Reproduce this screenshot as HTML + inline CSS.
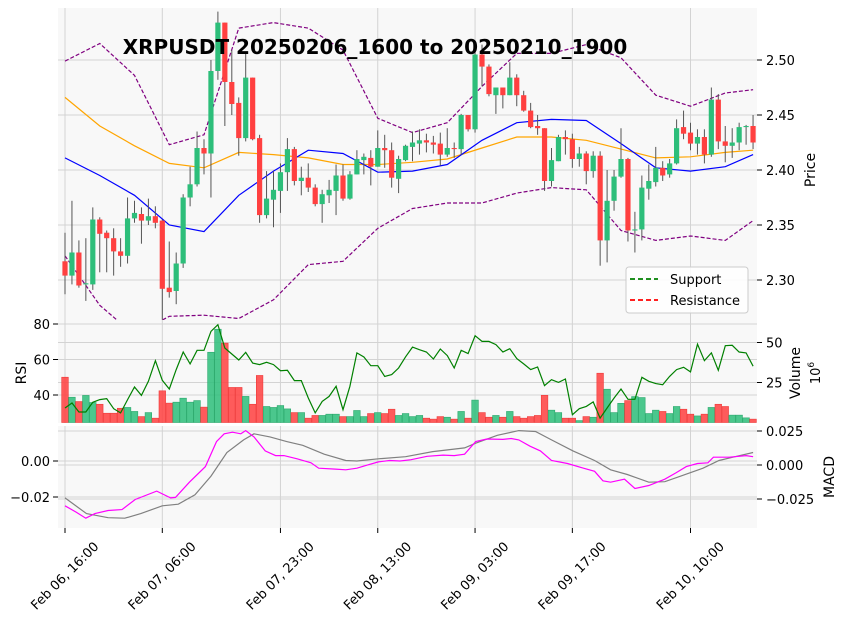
<!DOCTYPE html>
<html><head><meta charset="utf-8"><style>
html,body{margin:0;padding:0;background:#fff;}
svg{display:block;font-family:"DejaVu Sans","Liberation Sans",sans-serif;}
</style></head><body>
<svg id="chart" width="846" height="624" viewBox="0 0 846 624" xmlns="http://www.w3.org/2000/svg">
<defs>
<clipPath id="clipMain"><rect x="58" y="8" width="699" height="312"/></clipPath>
<clipPath id="clipMid"><rect x="58" y="320" width="699" height="103"/></clipPath>
<clipPath id="clipMacd"><rect x="58" y="426" width="699" height="102"/></clipPath>
</defs>
<g id="bg"></g>
<g id="grid"></g>
<g id="marks"></g>
<g id="axes"></g>
<text x="375" y="54" text-anchor="middle" font-size="20" font-weight="bold" fill="#000">XRPUSDT 20250206_1600 to 20250210_1900</text>
<g>
<rect x="626" y="267" width="122" height="46" rx="3" fill="#fff" fill-opacity="0.85" stroke="#ccc"/>
<line x1="630" y1="279" x2="658" y2="279" stroke="green" stroke-width="1.8" stroke-dasharray="5,3"/>
<text x="670" y="284" font-size="13">Support</text>
<line x1="630" y1="300" x2="658" y2="300" stroke="red" stroke-width="1.8" stroke-dasharray="5,3"/>
<text x="670" y="305" font-size="13">Resistance</text>
</g>
</svg>
<script>
const opens=[2.317,2.304,2.325,2.296,2.296,2.355,2.343,2.338,2.326,2.322,2.356,2.360,2.354,2.358,2.354,2.293,2.290,2.315,2.375,2.387,2.420,2.415,2.490,2.534,2.480,2.461,2.429,2.484,2.429,2.359,2.373,2.381,2.398,2.419,2.390,2.393,2.384,2.369,2.377,2.381,2.395,2.374,2.396,2.409,2.411,2.403,2.420,2.418,2.392,2.409,2.421,2.424,2.427,2.425,2.424,2.414,2.420,2.419,2.450,2.437,2.505,2.494,2.468,2.475,2.468,2.484,2.468,2.454,2.440,2.438,2.390,2.408,2.430,2.428,2.410,2.415,2.399,2.413,2.336,2.372,2.394,2.410,2.345,2.346,2.383,2.389,2.402,2.396,2.406,2.439,2.434,2.424,2.430,2.414,2.464,2.426,2.422,2.425,2.439,2.440];
const closes=[2.304,2.325,2.295,2.297,2.355,2.342,2.338,2.326,2.322,2.356,2.361,2.354,2.358,2.352,2.292,2.289,2.315,2.375,2.387,2.420,2.415,2.490,2.534,2.480,2.460,2.429,2.484,2.428,2.359,2.374,2.382,2.398,2.419,2.390,2.393,2.384,2.369,2.378,2.382,2.395,2.374,2.396,2.410,2.412,2.403,2.420,2.418,2.393,2.410,2.422,2.425,2.427,2.425,2.423,2.414,2.420,2.419,2.450,2.437,2.505,2.494,2.469,2.475,2.468,2.484,2.468,2.454,2.439,2.438,2.390,2.409,2.430,2.428,2.410,2.415,2.399,2.413,2.336,2.372,2.394,2.410,2.345,2.346,2.384,2.390,2.402,2.395,2.406,2.438,2.433,2.424,2.430,2.414,2.464,2.426,2.422,2.425,2.439,2.440,2.425];
const highs=[2.343,2.372,2.336,2.338,2.366,2.357,2.345,2.347,2.338,2.375,2.372,2.366,2.374,2.367,2.355,2.335,2.325,2.378,2.403,2.435,2.428,2.500,2.544,2.534,2.509,2.466,2.506,2.484,2.432,2.399,2.399,2.406,2.429,2.421,2.403,2.406,2.387,2.382,2.391,2.405,2.405,2.399,2.418,2.415,2.418,2.436,2.432,2.425,2.413,2.423,2.435,2.437,2.433,2.431,2.434,2.438,2.425,2.451,2.450,2.514,2.514,2.496,2.475,2.475,2.498,2.487,2.472,2.461,2.450,2.438,2.420,2.432,2.436,2.433,2.421,2.417,2.417,2.417,2.400,2.400,2.438,2.411,2.362,2.395,2.405,2.421,2.408,2.410,2.446,2.454,2.443,2.437,2.437,2.475,2.469,2.440,2.438,2.443,2.441,2.450];
const lows=[2.287,2.296,2.293,2.281,2.291,2.307,2.307,2.304,2.312,2.315,2.352,2.333,2.350,2.347,2.264,2.284,2.278,2.311,2.367,2.385,2.396,2.375,2.482,2.440,2.450,2.413,2.426,2.427,2.352,2.356,2.348,2.361,2.381,2.386,2.377,2.380,2.367,2.352,2.370,2.359,2.372,2.373,2.396,2.396,2.386,2.403,2.402,2.384,2.379,2.408,2.408,2.414,2.416,2.415,2.404,2.412,2.411,2.414,2.435,2.434,2.476,2.467,2.451,2.456,2.468,2.458,2.453,2.438,2.432,2.381,2.385,2.408,2.414,2.402,2.403,2.387,2.393,2.313,2.316,2.363,2.393,2.335,2.325,2.336,2.373,2.385,2.390,2.393,2.405,2.428,2.418,2.414,2.406,2.412,2.419,2.407,2.411,2.418,2.423,2.419];
const volumes=[28.3,15.8,13.1,16.9,12.5,11.4,5.8,5.8,8.9,9.4,6.9,3.7,6.2,2.7,19.8,12.1,12.7,15.2,12.7,13.7,9.6,43.9,58.3,49.6,21.9,21.9,16.3,11.4,29.4,10.0,9.4,10.6,8.5,6.2,6.2,2.7,4.4,4.4,5.2,5.2,3.7,3.7,7.5,3.7,5.6,6.2,5.6,8.3,4.4,5.6,3.7,4.4,2.7,2.1,3.7,3.3,2.1,6.9,2.7,14.0,6.2,3.3,4.4,3.3,6.9,3.7,2.7,3.7,4.4,17.0,7.7,6.2,2.7,2.7,1.2,3.7,3.3,30.8,20.8,6.2,12.0,13.7,16.2,15.6,5.6,7.7,6.9,5.6,10.0,8.3,5.2,4.1,5.2,9.4,11.4,10.0,4.6,4.6,2.9,2.1];
const rsiValues=[32.7,35.5,30.4,30.4,35.9,37.4,37.9,32.3,29.9,37.4,44.5,39.8,47.7,59.3,48.3,43.4,54.3,64.2,57.5,65.2,65.2,75.9,79.6,66.5,63.1,59.7,64.0,58.0,57.1,58.4,57.1,53.7,53.9,48.1,48.1,38.3,29.9,36.4,39.2,44.9,31.7,44.9,63.7,61.4,56.5,56.5,50.5,51.5,55.2,61.5,67.0,65.5,64.2,60.3,65.9,62.2,55.2,65.2,63.3,73.4,70.2,70.2,68.4,64.2,66.1,60.5,57.5,54.3,55.8,45.3,48.6,47.1,49.0,28.9,32.3,33.6,36.1,27.0,32.7,38.3,43.4,37.6,37.6,50.0,47.7,46.4,45.8,50.5,54.3,55.6,53.0,68.7,59.3,63.7,53.9,67.8,68.0,64.2,63.7,56.2];
const bandIdx=[0,5,10,15,20,25,30,35,40,45,50,55,60,65,70,75,80,85,90,95,99];
const smaFast=[2.411,2.395,2.377,2.350,2.344,2.377,2.399,2.418,2.415,2.398,2.399,2.405,2.427,2.443,2.446,2.445,2.424,2.402,2.399,2.403,2.414];
const smaSlow=[2.466,2.440,2.422,2.406,2.402,2.416,2.414,2.411,2.405,2.405,2.407,2.410,2.420,2.430,2.430,2.427,2.419,2.411,2.412,2.416,2.418];
const bbUpper=[2.499,2.515,2.486,2.423,2.432,2.529,2.534,2.529,2.509,2.447,2.434,2.443,2.476,2.506,2.506,2.514,2.502,2.468,2.458,2.470,2.473];
const bbLower=[2.322,2.277,2.250,2.267,2.268,2.265,2.282,2.314,2.317,2.347,2.365,2.370,2.370,2.379,2.384,2.382,2.345,2.336,2.340,2.336,2.354];
const macdIdx=[0,1.6,3.0,4.3,6.2,8.2,10.1,13.2,15.2,15.9,17.9,20.2,21.8,22.9,24.1,25.3,26.0,27.2,28.8,30.3,31.5,33.4,35.4,36.5,38.9,40.4,42.0,43.5,45.1,46.7,48.2,49.8,52.1,54.4,56.0,57.5,59.1,60.7,63.0,64.2,65.3,66.9,68.4,70.0,72.3,74.6,76.2,77.4,78.5,80.5,82.0,84.0,86.3,87.9,89.4,91.0,92.5,93.3,95.6,98.0,99];
const macdValues=[-0.0249,-0.0284,-0.0318,-0.0292,-0.0275,-0.0270,-0.0214,-0.0167,-0.0205,-0.0202,-0.0118,-0.0031,0.0108,0.0151,0.0160,0.0151,0.0169,0.0134,0.0056,0.0030,0.0030,0.0012,-0.0010,-0.0040,-0.0045,-0.0049,-0.0040,-0.0023,-0.0005,0.0003,0,0.0007,0.0026,0.0033,0.0030,0.0038,0.0108,0.0122,0.0120,0.0125,0.0117,0.0082,0.0056,0.0003,-0.0014,-0.0040,-0.0057,-0.0110,-0.0118,-0.0101,-0.0153,-0.0136,-0.0101,-0.0066,-0.0031,-0.0014,-0.0010,0.0021,0.0021,0.0030,0.0024];
const signalIdx=[0,3.1,6.2,8.6,10.9,14.0,16.3,18.7,21.0,23.3,25.7,27.2,29.5,31.9,34.2,37.3,40.4,42.0,45.1,49.0,52.9,57.5,59.1,62.2,65.3,67.7,70.0,73.1,76.2,78.5,80.9,84.0,86.3,88.6,91.8,94.1,96.4,99];
const signalValues=[-0.0205,-0.0292,-0.0315,-0.0318,-0.0292,-0.0249,-0.0240,-0.0188,-0.0084,0.0047,0.0117,0.0151,0.0134,0.0108,0.0087,0.0038,0.0003,0,0.0012,0.0024,0.0052,0.0073,0.0099,0.0143,0.0169,0.0164,0.0117,0.0056,0.0003,-0.0049,-0.0075,-0.0118,-0.0115,-0.0084,-0.0040,0.0003,0.0024,0.0047];
const xTickIdx=[0,14,31,45,59,73,90];
const xTickLabels=["Feb 06, 16:00","Feb 07, 06:00","Feb 07, 23:00","Feb 08, 13:00","Feb 09, 03:00","Feb 09, 17:00","Feb 10, 10:00"];
const priceTicks=[2.30,2.35,2.40,2.45,2.50];
const rsiTicks=[40,60,80];
const volTicks=[25,50];
const macdLeftTicks=[-0.02,0.00];
const macdRightTicks=[-0.025,0.000,0.025];

const NS="http://www.w3.org/2000/svg";
const X=i=>65+6.95*i;
const YP=p=>60+(2.5-p)*1100;
const YR=r=>324+(80-r)*1.775;
const YV=v=>422.5-v*1.6;
const YM=v=>461-v*1800;
const YMR=v=>465-v*1360;
function mk(parent,tag,attrs){const e=document.createElementNS(NS,tag);for(const k in attrs)e.setAttribute(k,attrs[k]);document.getElementById(parent).appendChild(e);return e;}
function mkIn(g,tag,attrs){const e=document.createElementNS(NS,tag);for(const k in attrs)e.setAttribute(k,attrs[k]);g.appendChild(e);return e;}
[[8,312,'price-panel'],[320,103,'rsi-volume-panel'],[426,102,'macd-panel']].forEach(p=>{
  const r=mk('bg','rect',{x:58,y:p[0],width:699,height:p[1],fill:'#f8f8f8'});
  
  
});
const GC='#d3d3d3';
xTickIdx.forEach(i=>{
  [[8,320],[320,423],[426,528]].forEach(s=>mk('grid','line',{x1:X(i),x2:X(i),y1:s[0],y2:s[1],stroke:GC,'stroke-width':1}));
});
priceTicks.forEach(p=>{
  mk('grid','line',{x1:58,x2:757,y1:YP(p),y2:YP(p),stroke:GC});
  mk('axes','line',{x1:757,x2:762,y1:YP(p),y2:YP(p),stroke:'#000'});
  const t=mk('axes','text',{x:766,y:YP(p)+5,'font-size':13});t.textContent=p.toFixed(2);
  
  
});
rsiTicks.forEach(r=>{
  mk('grid','line',{x1:58,x2:757,y1:YR(r),y2:YR(r),stroke:GC});
  mk('axes','line',{x1:53,x2:58,y1:YR(r),y2:YR(r),stroke:'#000'});
  const t=mk('axes','text',{x:50,y:YR(r)+5,'font-size':13,'text-anchor':'end'});t.textContent=r;
  
  
});
volTicks.forEach(v=>{
  mk('grid','line',{x1:58,x2:757,y1:YV(v),y2:YV(v),stroke:GC});
  mk('axes','line',{x1:757,x2:762,y1:YV(v),y2:YV(v),stroke:'#000'});
  const t=mk('axes','text',{x:766,y:YV(v)+5,'font-size':13});t.textContent=v;
  
  
});
macdLeftTicks.forEach(v=>{
  mk('grid','line',{x1:58,x2:757,y1:YM(v),y2:YM(v),stroke:GC});
  mk('axes','line',{x1:53,x2:58,y1:YM(v),y2:YM(v),stroke:'#000'});
  const t=mk('axes','text',{x:50,y:YM(v)+5,'font-size':13,'text-anchor':'end'});t.textContent=(v<0?'\u22120.02':'0.00');
  
  
});
macdRightTicks.forEach(v=>{
  mk('grid','line',{x1:58,x2:757,y1:YMR(v),y2:YMR(v),stroke:GC});
  mk('axes','line',{x1:757,x2:762,y1:YMR(v),y2:YMR(v),stroke:'#000'});
  const t=mk('axes','text',{x:766,y:YMR(v)+5,'font-size':13});t.textContent=(v<0?'\u2212':'')+Math.abs(v).toFixed(3);
  
  
});
xTickIdx.forEach((i,k)=>{
  mk('axes','line',{x1:X(i),x2:X(i),y1:528,y2:533,stroke:'#000'});
  const cx=X(i),cy=576;
  const t=mk('axes','text',{x:cx,y:cy+4,'font-size':13,'text-anchor':'middle',transform:`rotate(-45 ${cx} ${cy})`});
  t.textContent=xTickLabels[k];
  
  
});
[['Price',815,170,'price-axis-title'],['RSI',26,373,'rsi-axis-title'],['Volume',800,373,'volume-axis-title'],['MACD',834,477,'macd-axis-title']].forEach(a=>{
  const t=mk('axes','text',{x:a[1],y:a[2],'font-size':14,'text-anchor':'middle',transform:`rotate(-90 ${a[1]} ${a[2]})`});
  t.textContent=a[0];
  
  
});
{const t=mk('axes','text',{x:820,y:373,'font-size':13,'text-anchor':'middle',transform:'rotate(-90 820 373)'});
t.innerHTML='10<tspan dy="-6" font-size="9">6</tspan>';

}

const GREEN='#2dbe7a',RED='#ff4040';
const gMain=mk('marks','g',{'clip-path':'url(#clipMain)'});
function line(g,idx,vals,yf,attrs,name){
  const pts=idx.map((i,k)=>X(i).toFixed(1)+','+yf(vals[k]).toFixed(1)).join(' ');
  const e=mkIn(g,'polyline',Object.assign({points:pts,fill:'none'},attrs));
  
  
  return e;
}
line(gMain,bandIdx,bbUpper,YP,{stroke:'#800080','stroke-width':1.2,'stroke-dasharray':'4,2'},'bollinger-upper');
line(gMain,bandIdx,bbLower,YP,{stroke:'#800080','stroke-width':1.2,'stroke-dasharray':'4,2'},'bollinger-lower');
line(gMain,bandIdx,smaSlow,YP,{stroke:'orange','stroke-width':1.2},'sma-slow-line');
line(gMain,bandIdx,smaFast,YP,{stroke:'blue','stroke-width':1.2},'sma-fast-line');
opens.forEach((o,i)=>{
  const c=closes[i],up=c>=o,col=up?GREEN:RED;
  const g=mkIn(gMain,'g',{});
  
  
  mkIn(g,'line',{x1:X(i),x2:X(i),y1:YP(highs[i]),y2:YP(lows[i]),stroke:'#555','stroke-width':1});
  const top=YP(Math.max(o,c)),bot=YP(Math.min(o,c));
  mkIn(g,'rect',{x:X(i)-2.6,y:top,width:5.2,height:Math.max(1,bot-top),fill:col});
});
const gMid=mk('marks','g',{'clip-path':'url(#clipMid)'});
volumes.forEach((v,i)=>{
  const up=closes[i]>=opens[i];
  const r=mkIn(gMid,'rect',{x:X(i)-3.3,y:YV(v),width:6.6,height:422.5-YV(v),fill:up?GREEN:RED,'fill-opacity':0.85,stroke:up?'#2aa86c':'#ee3a3a','stroke-width':0.6});
  
  
});
line(gMid,rsiValues.map((v,i)=>i),rsiValues,YR,{stroke:'green','stroke-width':1.2},'rsi-line');
const gM=mk('marks','g',{'clip-path':'url(#clipMacd)'});
line(gM,signalIdx,signalValues,YM,{stroke:'#808080','stroke-width':1.2},'signal-line');
line(gM,macdIdx,macdValues,YM,{stroke:'magenta','stroke-width':1.2},'macd-line');
</script>
</body></html>
